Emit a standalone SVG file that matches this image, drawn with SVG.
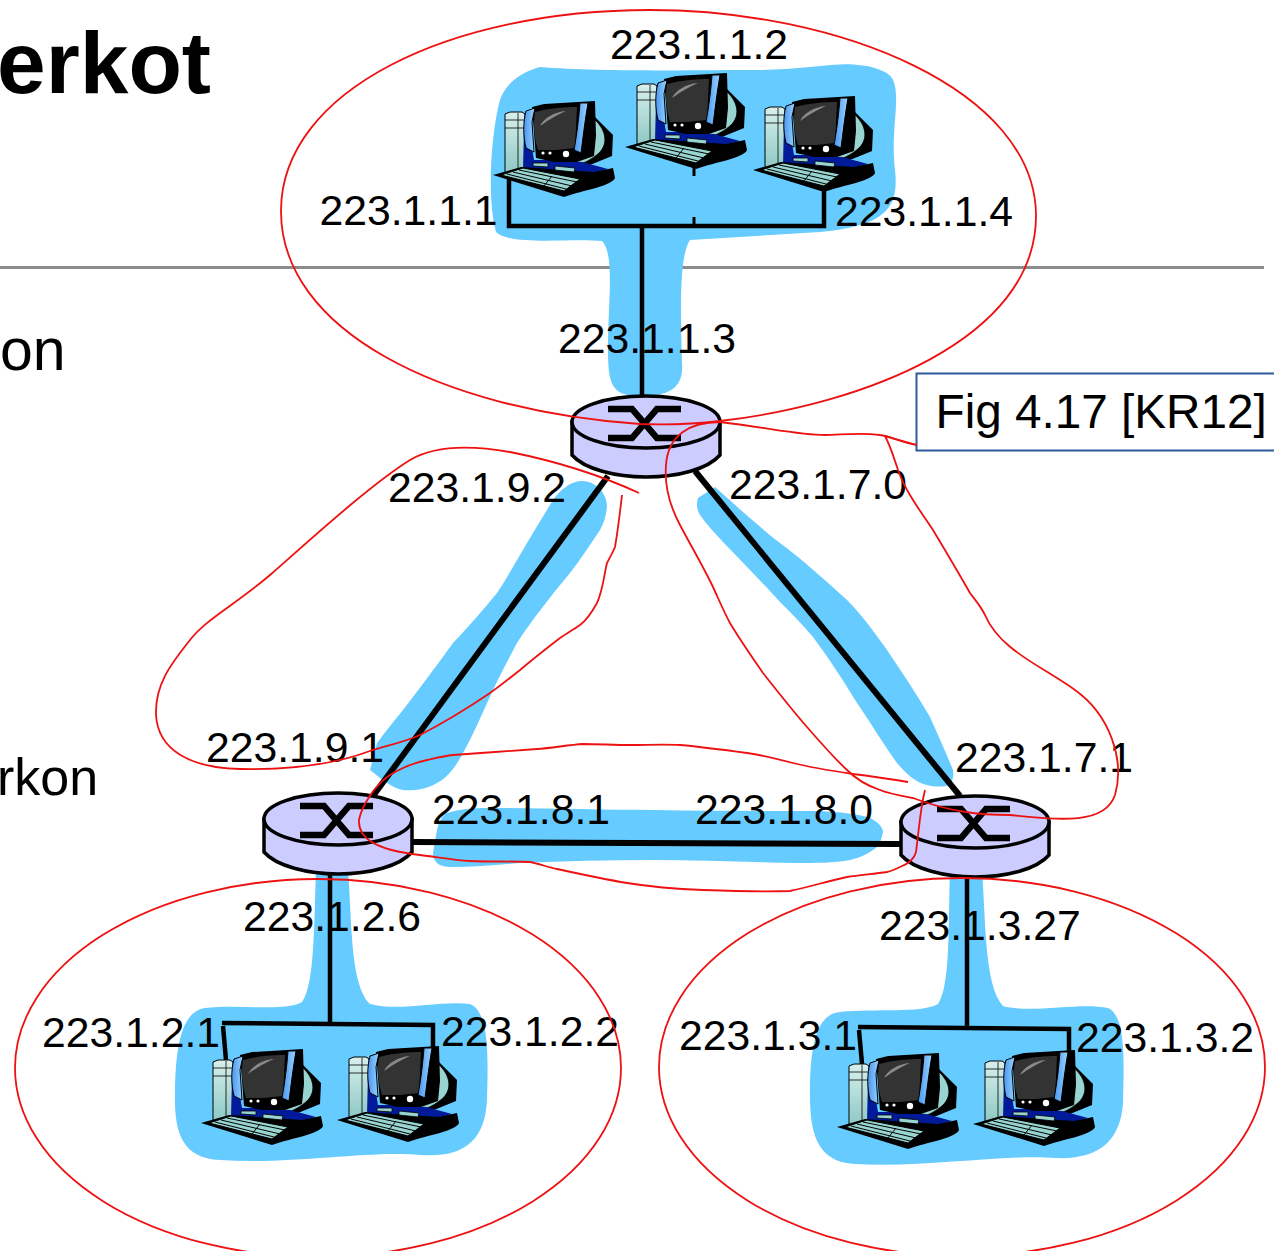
<svg xmlns="http://www.w3.org/2000/svg" width="1274" height="1251" viewBox="0 0 1274 1251">
<style>
.t{font-family:"Liberation Sans",Arial,sans-serif;font-size:42.700px;fill:#000}
.s{font-family:"Liberation Sans",Arial,sans-serif;fill:#000}
.b{fill:#66ccff}
.c{stroke:#000;fill:none;stroke-width:4.500}
.w{stroke:#000;fill:none;stroke-width:6}
.r{stroke:#ee1111;fill:none;stroke-width:1.800}
.rb{fill:#ccccff;stroke:#000;stroke-width:3.500}
.rx{fill:none;stroke:#000;stroke-width:6.500}
.k{fill:#000}
.nv{fill:#001a99}
.te{fill:#99d5d0;stroke:#000;stroke-width:.8}
</style>
<defs>
<linearGradient id="tw" x1="0" y1="0" x2="0" y2="1"><stop offset="0" stop-color="#d8f0ec"/><stop offset="1" stop-color="#8cc8c4"/></linearGradient>
<linearGradient id="st" x1="0" y1="0" x2="1" y2="0"><stop offset="0" stop-color="#4a96f0"/><stop offset="1" stop-color="#99d4ff"/></linearGradient>
<g id="pc">
<path class="k" d="M98,16 L119,37 L118,58 L96,67 L80,68Z"/>
<path class="te" d="M99,20 C111,30 115,44 106,54 C98,62 88,66 78,69 L62,69 L62,62 L80,60 C95,56 102,40 99,20Z"/>
<path d="M11,16 L16,14 H28 L31,16 V74 L11,76Z" fill="url(#tw)" stroke="#000" stroke-width="1"/>
<path d="M11,22H30M11,30H30M24,15V75" stroke="#000" stroke-width=".8" fill="none"/>
<path class="nv" d="M30,30L38,50L40,62L56,62L88,64L114,71L88,78L60,78L29,72Z"/>
<path class="k" d="M-1,77 L27,69 L100,74 L119,70 L121,80 C118,88 90,92 70,99Z"/>
<path d="M7,77 L29,70 L86,81 L70,93Z" fill="#99d5d0" stroke="#000" stroke-width="1"/>
<path d="M13,76L72,91M19,74L78,88M25,72L83,84M58,78L50,88" stroke="#000" stroke-width="1" fill="none"/>
<path class="te" d="M39,65L54,65L54,69L39,68ZM61,68L81,70L80,74L61,72Z"/>
<path class="k" d="M38,9 L50,6 L101,3 L102,38 L100,58 L83,64 L60,64 L42,60Z"/>
<path d="M32,13 L41,10 L38,24 L40,54 L32,50 C29,38 29,24 32,13Z" fill="url(#st)" stroke="#000" stroke-width="1"/>
<path d="M41,14 C55,10 72,9 83,9 L81,50 L62,52 L44,52 C40,40 39,25 41,14Z" fill="#333"/>
<path d="M46,28 C50,20 60,14 72,13 C60,18 52,24 46,28Z" fill="#8a8a8a"/>
<path d="M86,5 L94,5 C91,22 89,40 87,55 L80,52 C83,36 85,18 86,5Z" fill="url(#st)" stroke="#000" stroke-width="1"/>
<circle cx="49" cy="55" r="1.600" fill="#fff"/><circle cx="56" cy="55" r="1.600" fill="#fff"/><circle cx="72" cy="56" r="3.200" fill="#fff"/>
</g>
<g id="rt">
<path class="rb" d="M-74,0 V33 C-62,47 -30,55 0,55 C32,55 62,47 74,33 V0 Z"/>
<ellipse class="rb" cx="0" cy="0" rx="74" ry="26"/>
<path class="rx" d="M-38,-13 H-14 L11,16 H35 M-38,16 H-14 L11,-13 H35"/>
</g>
</defs>

<g id="slide-text">
<text class="s" x="-3" y="93" font-weight="bold" font-size="87.500">erkot</text>
<text class="s" x="0" y="370" font-size="59">on</text>
<text class="s" x="-3" y="795" font-size="52">rkon</text>
<path d="M0,267.500H1264" stroke="#8c8c8c" stroke-width="3" fill="none"/>
</g>

<g id="blue-regions">
<path class="b" d="M500,100 C505,85 520,72 540,67 C600,72 700,70 760,70 C800,70 840,62 857,65 C875,66 888,72 892,78 C902,95 890,130 895,170 C900,212 880,226 820,232 L690,240 C680,255 680,300 682,362 C684,388 670,396 640,396 C612,396 608,385 608,350 C608,300 615,255 602,241 C570,238 510,246 496,232 C485,190 494,120 500,100Z"/>
<path class="b" d="M580,481 C595,480 607,492 607,507 C606,516 604,523 600,530 C590,545 580,560 570,573 C550,597 532,620 517,643 C508,660 500,675 493,690 C483,712 473,735 463,753 C455,768 447,778 437,783 C425,790 412,791 403,790 C392,788 380,778 370,770 L377,743 C385,732 393,722 403,710 C420,688 437,665 453,643 C470,625 483,610 497,593 C507,578 517,560 527,543 C536,528 545,513 553,500 C560,490 570,482 580,481Z"/>
<path class="b" d="M715,487 L698,498 C696,505 697,510 700,515 C707,525 715,533 723,542 C742,562 762,582 780,602 C792,614 803,625 813,637 C828,657 843,680 857,703 C870,722 884,745 897,763 C907,775 917,783 927,785 C935,787 943,787 950,785 C953,780 954,775 953,770 C947,755 938,735 930,717 C917,695 902,672 887,650 C875,633 862,615 847,600 C825,580 803,560 780,543 C757,525 735,505 715,487Z"/>
<path class="b" d="M437,830 C439,822 442,816 447,813 C460,809 472,808 487,808 C540,808 600,810 653,810 C710,811 770,811 820,811 C840,812 858,814 870,818 C878,822 883,827 883,832 C882,838 880,843 877,847 C870,853 860,858 850,860 C835,863 815,863 797,863 C750,862 700,860 653,860 C610,860 565,861 520,863 C497,865 475,867 453,867 C446,867 440,866 437,863 C434,860 433,857 433,853Z"/>
<path class="b" d="M316,870 H348 C352,920 350,985 370,1004 C400,1012 440,1000 470,1004 C490,1012 488,1060 487,1100 C485,1140 465,1158 420,1155 C370,1150 290,1165 220,1160 C180,1158 174,1130 175,1090 C176,1050 180,1012 205,1008 C240,1004 285,1012 302,1002 C315,985 314,920 316,870Z"/>
<path class="b" d="M950,872 H982 C986,920 984,985 1003,1006 C1030,1014 1080,1002 1108,1008 C1126,1016 1124,1060 1123,1104 C1120,1140 1100,1160 1055,1158 C1005,1154 925,1168 855,1164 C815,1162 810,1130 810,1094 C810,1050 815,1014 840,1012 C875,1008 920,1014 938,1004 C951,985 948,920 950,872Z"/>
</g>

<g id="connectors">
<path class="c" d="M642,228 V396"/>
<path class="c" d="M509,178 V226 H824 V190"/>
<path class="c" d="M694,165 V176 M694,217 V226" style="stroke-width:3"/>
<path class="w" d="M608,476 L373,796"/>
<path class="w" d="M695,471 L960,796"/>
<path class="w" d="M413,842 L900,844"/>
<path class="c" d="M330,872 V1024"/>
<path class="c" d="M222,1023 L433,1025 V1048 M223,1026 L226,1060"/>
<path class="c" d="M967,876 V1028"/>
<path class="c" d="M858,1027 L1069,1029 V1052 M859,1030 L862,1064"/>
</g>

<g id="host-1-1-1"><use href="#pc" x="494" y="98"/></g>
<g id="host-1-1-2"><use href="#pc" x="626" y="70"/></g>
<g id="host-1-1-4"><use href="#pc" x="754" y="93"/></g>
<g id="host-1-2-1"><use href="#pc" x="202" y="1046"/></g>
<g id="host-1-2-2"><use href="#pc" x="338" y="1043"/></g>
<g id="host-1-3-1"><use href="#pc" x="838" y="1050"/></g>
<g id="host-1-3-2"><use href="#pc" x="974" y="1047"/></g>

<g id="router-top"><use href="#rt" x="646" y="422"/></g>
<g id="router-left"><use href="#rt" x="338" y="819"/></g>
<g id="router-right"><use href="#rt" x="975" y="822"/></g>

<g id="labels">
<text class="t" x="610" y="59">223.1.1.2</text>
<text class="t" x="319.500" y="225">223.1.1.1</text>
<text class="t" x="835" y="226">223.1.1.4</text>
<text class="t" x="558" y="353">223.1.1.3</text>
<text class="t" x="388" y="502">223.1.9.2</text>
<text class="t" x="729" y="499">223.1.7.0</text>
<text class="t" x="206" y="762">223.1.9.1</text>
<text class="t" x="955" y="772">223.1.7.1</text>
<text class="t" x="432" y="824">223.1.8.1</text>
<text class="t" x="695" y="824">223.1.8.0</text>
<text class="t" x="243" y="931">223.1.2.6</text>
<text class="t" x="879" y="940">223.1.3.27</text>
<text class="t" x="42" y="1047">223.1.2.1</text>
<text class="t" x="441" y="1046">223.1.2.2</text>
<text class="t" x="679" y="1050">223.1.3.1</text>
<text class="t" x="1076" y="1052">223.1.3.2</text>
</g>

<g id="subnet-outlines">
<path class="r" d="M720,421 C860,405 1037,340 1036,215 C1035,90 840,10 650,10 C450,10 282,90 281,210 C280,330 440,410 640,424 C670,425 695,424 720,421"/>
<ellipse class="r" cx="318" cy="1068" rx="303" ry="189"/>
<ellipse class="r" cx="962" cy="1067" rx="303" ry="189"/>
<path class="r" d="M639,493 C600,475 560,462 510,452 C470,445 435,445 410,460 C370,485 310,540 270,575 C235,605 205,620 190,640 C170,665 155,685 156,715 C158,750 190,768 240,769 C290,770 335,764 370,751 C385,746 405,742 420,735 C445,722 468,708 490,693 C500,686 510,678 520,670 C533,659 547,648 560,638 C567,633 573,630 580,625 C587,620 592,612 597,603 C603,590 604,575 607,563 C610,557 613,552 615,547 C618,530 620,512 622,495"/>
<path class="r" d="M917,445 C900,442 890,436 880,435 C860,432 840,435 825,435 C800,435 770,428 720,422 C690,422 668,435 666,465 C664,490 672,510 680,525 C691,546 703,566 713,587 C719,600 724,612 730,623 C740,640 752,657 763,673 C778,692 792,710 807,727 C820,742 833,757 847,770 C857,780 868,786 880,790 C890,794 902,796 913,798 C950,812 980,815 1010,815 C1060,820 1105,825 1115,795 C1125,760 1110,715 1075,690 C1040,665 1000,650 985,615 C980,605 975,600 970,593 C958,572 945,550 933,530 C925,518 917,507 910,495 C905,487 901,478 898,470 C893,455 890,445 885,436"/>
<path class="r" d="M908,782 C890,779 870,776 853,774 C833,771 813,768 793,763 C778,759 762,755 747,753 C725,750 702,747 680,745 C663,744 647,745 630,745 C615,745 598,744 583,744 C568,745 552,748 537,749 C510,751 480,753 453,755 C444,756 436,758 427,760 C414,763 401,768 390,775 C375,785 362,805 359,820 C358,838 375,850 420,855 C437,857 453,860 470,861 C490,862 510,861 530,862 C539,864 548,867 557,869 C580,874 603,879 627,883 C652,887 678,889 703,890 C732,891 761,892 790,891 C809,887 828,881 847,877 C860,875 873,874 887,872 C892,871 896,869 900,867 C908,864 914,860 916,852 C919,830 920,810 925,790"/>
</g>

<g id="fig-label">
<path d="M1274,373.500H916.500V450.500H1274" fill="#fff" stroke="#2f5b9a" stroke-width="2"/>
<text class="s" x="935.500" y="428" font-size="47.700">Fig 4.17 [KR12]</text>
<path class="r" d="M885,436 L917,445"/>
</g>
</svg>
